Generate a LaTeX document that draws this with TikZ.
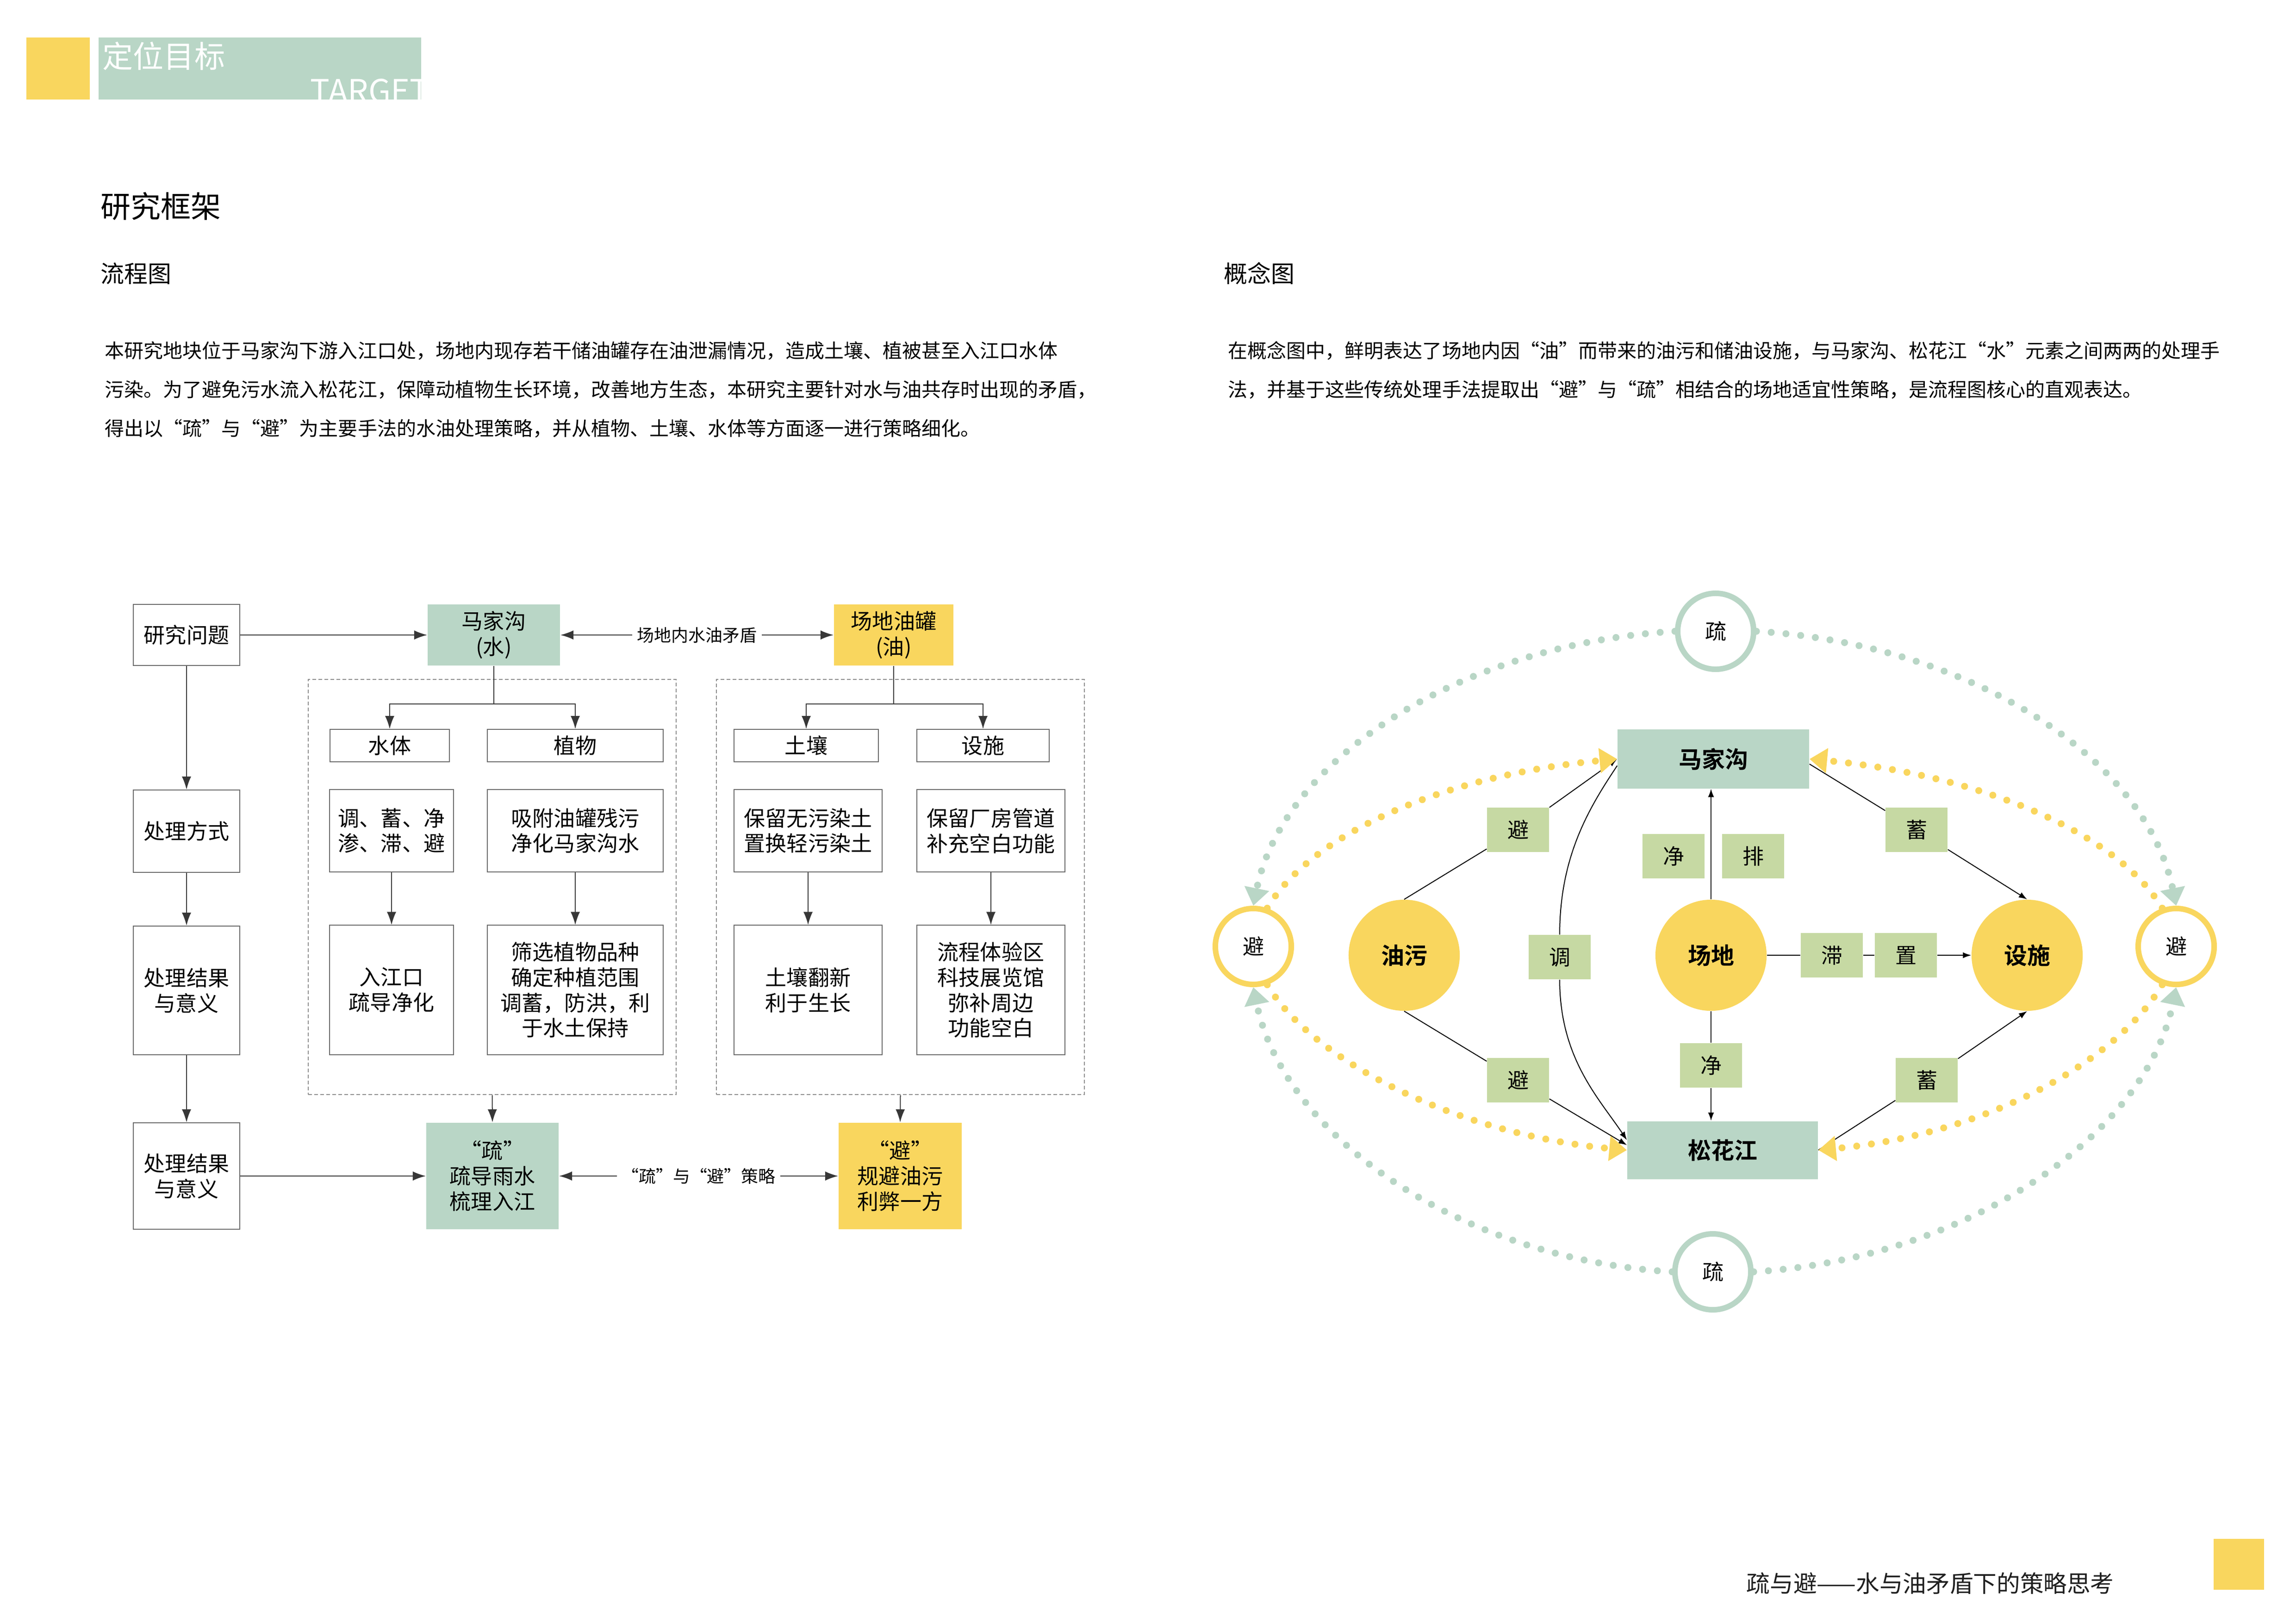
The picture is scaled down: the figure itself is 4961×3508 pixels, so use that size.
\documentclass[tikz,border=0pt]{standalone}
\usepackage{fontspec}
\setmainfont{Noto Sans CJK SC}[BoldFont={Noto Sans CJK SC Bold}]
\usetikzlibrary{arrows.meta, calc, positioning}
\definecolor{oilyellow}{RGB}{249,214,94}
\definecolor{watergreen}{RGB}{185,214,198}
\definecolor{taggreen}{RGB}{198,217,163}
\definecolor{linegray}{RGB}{55,55,55}
\definecolor{framegray}{RGB}{105,105,105}
\definecolor{dashgray}{RGB}{140,140,140}
\newcommand{\fsz}[2]{\fontsize{#1}{#2}\selectfont}

\begin{document}
\begin{tikzpicture}[x=0.01cm, y=-0.01cm,
    font=\fsz{13.1pt}{15.6pt},
    cell/.style 2 args={draw=framegray, line width=0.02cm, minimum width=#1, minimum height=#2, inner sep=0pt, align=center},
    frame/.style 2 args={draw=dashgray, line width=0.02cm, dash pattern=on 0.08cm off 0.05cm, minimum width=#1, minimum height=#2, inner sep=0pt},
    flow/.style={draw=linegray, line width=0.02cm, -{Latex[length=0.28cm,width=0.2cm]}},
    dbl/.style={flow, {Latex[length=0.28cm,width=0.2cm]}-{Latex[length=0.28cm,width=0.2cm]}},
    edgelabel/.style={fill=white, inner sep=3pt, font=\fsz{10.5pt}{12pt}},
    ring/.style={circle, draw=#1, line width=0.12cm, fill=white, minimum size=1.64cm, inner sep=0pt},
    blob/.style={circle, fill=oilyellow, minimum size=2.4cm, inner sep=0pt, font=\bfseries\fsz{14.2pt}{17pt}},
    water/.style 2 args={fill=watergreen, minimum width=#1, minimum height=#2, inner sep=0pt, font=\bfseries\fsz{14.2pt}{17pt}},
    tag/.style={fill=taggreen, minimum width=1.34cm, minimum height=0.96cm, inner sep=0pt},
    link/.style={draw=black, line width=0.02cm},
    linkarrow/.style={link, -{Latex[length=0.18cm,width=0.13cm]}},
    dotline/.style={draw=#1, line width=0.15cm, line cap=round, dash pattern=on 0pt off 0.32cm, -{Triangle[length=0.38cm,width=0.52cm]}}]
\useasboundingbox (0,0) rectangle (4961,3508);
\fill[white] (0,0) rectangle (4961,3508);

% header
\fill[oilyellow] (57,81) rectangle (194,215);
\fill[watergreen] (213,81) rectangle (910,215);
\node[anchor=west, inner sep=0pt, text=white, font=\fsz{18.8pt}{22pt}] (headcn) at (221,121) {定位目标};
\node[anchor=base east, inner sep=0pt, text=white, font=\fsz{19.9pt}{22pt}] (headen) at (928,222) {TARGET};

% titles and text
\node[anchor=west, inner sep=0pt, font=\fsz{18.5pt}{22pt}] (title) at (217,446) {研究框架};
\node[anchor=west, inner sep=0pt, font=\fsz{14.5pt}{17pt}] (subflow) at (217,591) {流程图};
\node[anchor=west, inner sep=0pt, font=\fsz{14.5pt}{17pt}] (subconcept) at (2644,591) {概念图};
\node[anchor=north west, inner sep=0pt, align=left, font=\fsz{11.95pt}{23.9pt}] (textflow) at (226,737)
  {本研究地块位于马家沟下游入江口处，场地内现存若干储油罐存在油泄漏情况，造成土壤、植被甚至入江口水体\\
   污染。为了避免污水流入松花江，保障动植物生长环境，改善地方生态，本研究主要针对水与油共存时出现的矛盾，\\
   得出以“疏”与“避”为主要手法的水油处理策略，并从植物、土壤、水体等方面逐一进行策略细化。};
\node[anchor=north west, inner sep=0pt, align=left, font=\fsz{11.95pt}{23.9pt}] (textconcept) at (2653,737)
  {在概念图中，鲜明表达了场地内因“油”而带来的油污和储油设施，与马家沟、松花江“水”元素之间两两的处理手\\
   法，并基于这些传统处理手法提取出“避”与“疏”相结合的场地适宜性策略，是流程图核心的直观表达。};

% footer
\node[anchor=west, inner sep=0pt, text=black!88, font=\fsz{14.4pt}{17pt}] (footer) at (3773,3421) {疏与避——水与油矛盾下的策略思考};
\fill[oilyellow] (4783,3325) rectangle (4892,3435);

% flow chart
\node[frame={7.95cm}{8.97cm}] (frameW) at (1063.5,1916.5) {};
\node[frame={7.95cm}{8.97cm}] (frameO) at (1945.5,1916.5) {};
\node[cell={2.29cm}{1.31cm}] (wenti) at (403,1372) {研究问题};
\node[cell={2.86cm}{1.31cm}, draw=none, fill=watergreen] (mjgW) at (1067,1372) {马家沟\\(水)};
\node[cell={2.58cm}{1.31cm}, draw=none, fill=oilyellow] (youG) at (1931,1372) {场地油罐\\(油)};
\node[cell={2.29cm}{1.78cm}] (fangshi) at (403,1796) {处理方式};
\node[cell={2.29cm}{2.78cm}] (jieguoA) at (403,2140) {处理结果\\与意义};
\node[cell={2.29cm}{2.30cm}] (jieguoB) at (403,2541) {处理结果\\与意义};
\node[cell={2.58cm}{0.70cm}] (shuti) at (842,1611) {水体};
\node[cell={3.80cm}{0.70cm}] (zhiwu) at (1243,1611) {植物};
\node[cell={3.12cm}{0.70cm}] (turang) at (1742,1611) {土壤};
\node[cell={2.86cm}{0.70cm}] (sheshiB) at (2124,1611) {设施};
\node[cell={2.67cm}{1.77cm}] (rowBa) at (846,1795) {调、蓄、净\\渗、滞、避};
\node[cell={3.80cm}{1.77cm}] (rowBb) at (1243,1795) {吸附油罐残污\\净化马家沟水};
\node[cell={3.20cm}{1.77cm}] (rowBc) at (1746,1795) {保留无污染土\\置换轻污染土};
\node[cell={3.20cm}{1.77cm}] (rowBd) at (2141,1795) {保留厂房管道\\补充空白功能};
\node[cell={2.67cm}{2.79cm}] (rowCa) at (846,2139) {入江口\\疏导净化};
\node[cell={3.80cm}{2.79cm}] (rowCb) at (1243,2139) {筛选植物品种\\确定种植范围\\调蓄，防洪，利\\于水土保持};
\node[cell={3.20cm}{2.79cm}] (rowCc) at (1746,2139) {土壤翻新\\利于生长};
\node[cell={3.20cm}{2.79cm}] (rowCd) at (2141,2139) {流程体验区\\科技展览馆\\弥补周边\\功能空白};
\node[cell={2.86cm}{2.30cm}, draw=none, fill=watergreen] (shuG) at (1064,2541) {“疏”\\疏导雨水\\梳理入江};
\node[cell={2.66cm}{2.30cm}, draw=none, fill=oilyellow] (biY) at (1945,2541) {“避”\\规避油污\\利弊一方};

\draw[flow] (wenti) -- (mjgW);
\draw[dbl] (mjgW) -- node[edgelabel] {场地内水油矛盾} (youG);
\draw[flow] (wenti) -- (fangshi);
\draw[flow] (fangshi) -- (jieguoA);
\draw[flow] (jieguoA) -- (jieguoB);
\draw[linegray, line width=0.02cm] (mjgW.south) -- ++(0,82) coordinate (splitW);
\draw[flow] (splitW) -| (shuti.north);
\draw[flow] (splitW) -| (zhiwu.north);
\draw[linegray, line width=0.02cm] (youG.south) -- ++(0,82) coordinate (splitO);
\draw[flow] (splitO) -| (turang.north);
\draw[flow] (splitO) -| (sheshiB.north);
\draw[flow] (rowBa) -- (rowCa);
\draw[flow] (rowBb) -- (rowCb);
\draw[flow] (rowBc) -- (rowCc);
\draw[flow] (rowBd) -- (rowCd);
\draw[flow] (frameW.south) -- (shuG.north);
\draw[flow] (frameO.south) -- (biY.north);
\draw[flow] (jieguoB) -- (shuG);
\draw[dbl] (shuG) -- node[edgelabel] {“疏”与“避”策略} (biY);

% concept map
\node[ring=watergreen] (shuT) at (3707,1364) {疏};
\node[ring=watergreen] (shuB) at (3701,2748) {疏};
\node[ring=oilyellow] (biL) at (2708,2045) {避};
\node[ring=oilyellow] (biR) at (4702,2045) {避};
\node[water={4.14cm}{1.27cm}] (mjg) at (3702,1640) {马家沟};
\node[water={4.12cm}{1.25cm}] (shj) at (3722,2485) {松花江};
\node[blob] (youwu) at (3034,2064) {油污};
\node[blob] (changdi) at (3697,2064) {场地};
\node[blob] (sheshi) at (4380,2064) {设施};
\node[tag] (biUL) at (3280,1793) {避};
\node[tag] (biLL) at (3280,2334) {避};
\node[tag] (tiao) at (3370,2068) {调};
\node[tag] (jingU) at (3616,1850) {净};
\node[tag] (pai) at (3788,1850) {排};
\node[tag] (zhi) at (3958,2064) {滞};
\node[tag] (zhiB) at (4118,2064) {置};
\node[tag] (jingD) at (3697,2302) {净};
\node[tag] (xuU) at (4141,1793) {蓄};
\node[tag] (xuD) at (4163,2334) {蓄};

\draw[link] (youwu.north) -- (biUL);
\draw[linkarrow] (biUL) -- (mjg.west);
\draw[link] (youwu.south) -- (biLL);
\draw[linkarrow] (biLL) -- (shj.177);
\draw[link] (mjg.184) .. controls +(-60,90) and +(0,-170) .. (tiao.north);
\draw[linkarrow] (tiao.south) .. controls +(0,170) and +(-60,-90) .. (shj.174);
\draw[linkarrow] (changdi.north) -- (changdi.north |- mjg.south);
\draw[link] (changdi.south) -- (jingD);
\draw[linkarrow] (jingD) -- (jingD |- shj.north);
\draw[link] (changdi) -- (zhi);
\draw[link] (zhi) -- (zhiB);
\draw[linkarrow] (zhiB) -- (sheshi);
\draw[link] (mjg.-3) -- (xuU);
\draw[linkarrow] (xuU) -- (sheshi.north);
\draw[link] (shj.east) -- (xuD);
\draw[linkarrow] (xuD) -- (sheshi.south);

\draw[dotline=watergreen] (shuT.west) .. controls +(-463,28) and +(65,-318) .. (biL.north);
\draw[dotline=watergreen] (shuT.east) .. controls +(463,28) and +(-65,-318) .. (biR.north);
\draw[dotline=watergreen] (shuB.west) .. controls +(-463,-28) and +(65,318) .. (biL.south);
\draw[dotline=watergreen] (shuB.east) .. controls +(463,-28) and +(-65,318) .. (biR.south);
\draw[dotline=oilyellow] (biL.70) .. controls +(95,-160) and +(-375,35) .. (mjg.west);
\draw[dotline=oilyellow] (biR.110) .. controls +(-95,-160) and +(375,35) .. (mjg.east);
\draw[dotline=oilyellow] (biL.-70) .. controls +(95,160) and +(-375,-35) .. (shj.west);
\draw[dotline=oilyellow] (biR.-110) .. controls +(-95,160) and +(375,-35) .. (shj.east);
\end{tikzpicture}
\end{document}
